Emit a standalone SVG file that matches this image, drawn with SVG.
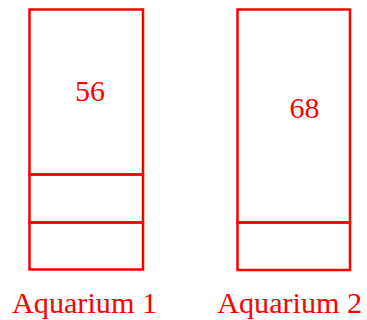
<svg xmlns="http://www.w3.org/2000/svg" width="367" height="320" viewBox="0 0 367 320">
<style>
.box{fill:none;stroke:#ff0000;stroke-width:2.5}
.t{fill:#ff0000;font-family:"Liberation Serif","DejaVu Serif",serif;font-size:30px;text-anchor:middle}
</style>
<rect width="367" height="320" fill="#ffffff"/>
<g id="aquarium1">
<rect class="box" x="29.5" y="9.5" width="113.5" height="165"/>
<rect class="box" x="29.5" y="174.5" width="113.5" height="48"/>
<rect class="box" x="29.5" y="222.5" width="113.5" height="47"/>
<text class="t" x="90" y="101">56</text>
<text class="t" x="84.5" y="313" textLength="145" lengthAdjust="spacingAndGlyphs">Aquarium 1</text>
</g>
<g id="aquarium2">
<rect class="box" x="237.5" y="9.5" width="112.5" height="213"/>
<rect class="box" x="237.5" y="222.5" width="112.5" height="47.5"/>
<text class="t" x="304.5" y="117.5">68</text>
<text class="t" x="289.7" y="313" textLength="145" lengthAdjust="spacingAndGlyphs">Aquarium 2</text>
</g>
<g id="connectors"/>
</svg>
